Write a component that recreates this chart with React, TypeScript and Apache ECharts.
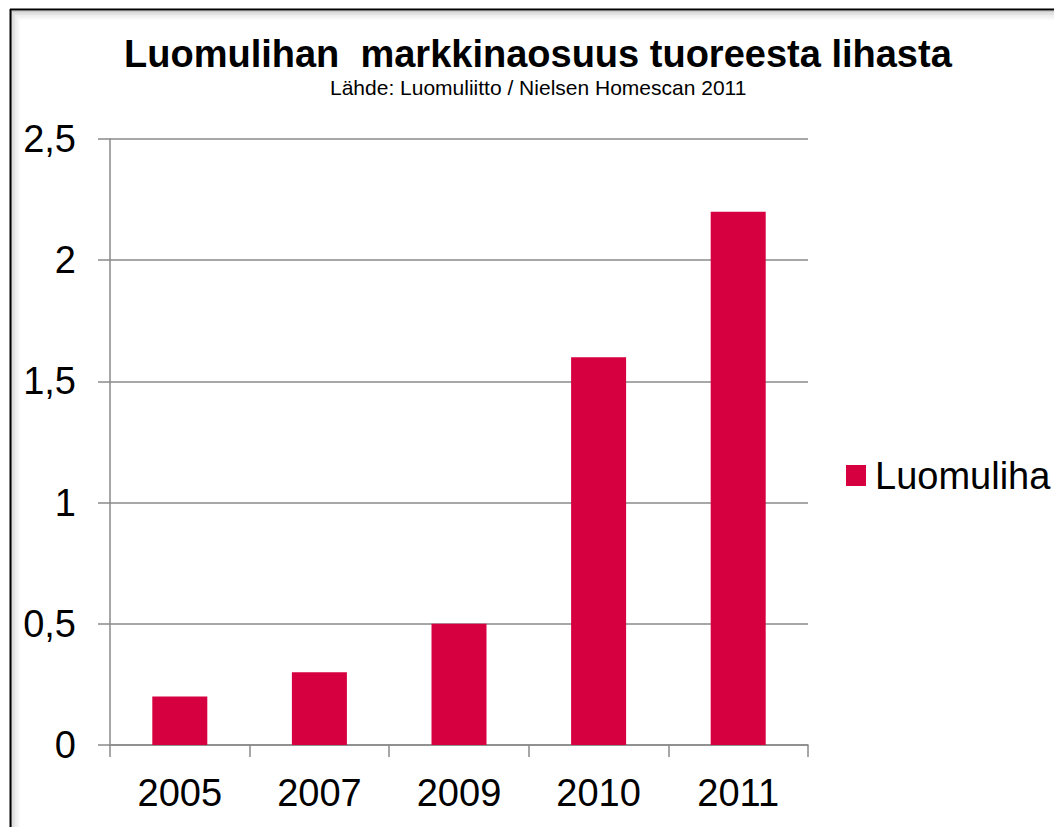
import React, { useEffect, useRef } from "react";
import * as echarts from "echarts";

const titleText = "Luomulihan  markkinaosuus tuoreesta lihasta";
const subtitleText = "Lähde: Luomuliitto / Nielsen Homescan 2011";
const seriesName = "Luomuliha";
const categories = ["2005", "2007", "2009", "2010", "2011"];
const values = [0.2, 0.3, 0.5, 1.6, 2.2];

const FONT = "'Liberation Sans', Arial, sans-serif";
const BAR_COLOR = "#D60040";
const AXIS_GRAY = "#8a8a8a";

export default function App() {
  const ref = useRef<HTMLDivElement>(null);

  useEffect(() => {
    document.body.style.margin = "0";
    if (!ref.current) return;
    const chart = echarts.init(ref.current, undefined, { renderer: "svg" });

    const shadowLines: any[] = [];
    const shades = ["#c8c8c8", "#d6d6d6", "#e2e2e2", "#ebebeb", "#f2f2f2", "#f8f8f8"];
    shades.forEach((c, i) => {
      const off = 11.5 + i * 1.5;
      shadowLines.push({
        type: "line",
        shape: { x1: off - 0.5, y1: off, x2: 1054, y2: off },
        style: { stroke: c, lineWidth: 1.5 },
        silent: true,
        z: -1,
      });
      shadowLines.push({
        type: "line",
        shape: { x1: off, y1: off, x2: off, y2: 827 },
        style: { stroke: c, lineWidth: 1.5 },
        silent: true,
        z: -1,
      });
    });

    chart.setOption({
      animation: false,
      backgroundColor: "#ffffff",
      title: [
        {
          text: titleText,
          left: 124,
          top: 35,
          padding: 0,
          textStyle: {
            fontFamily: FONT,
            fontSize: 38,
            fontWeight: "bold",
            color: "#000",
            lineHeight: 38,
          },
        },
        {
          text: subtitleText,
          left: 330,
          top: 77,
          padding: 0,
          textStyle: {
            fontFamily: FONT,
            fontSize: 21,
            fontWeight: "normal",
            color: "#000",
            lineHeight: 21,
          },
        },
      ],
      legend: {
        data: [seriesName],
        left: 846,
        top: 456.5,
        padding: 0,
        icon: "rect",
        itemWidth: 20,
        itemHeight: 21,
        textStyle: {
          fontFamily: FONT,
          fontSize: 38,
          color: "#000",
          padding: [0, 0, 0, 4],
          lineHeight: 38,
        },
      },
      grid: { left: 110, right: 246, top: 139, bottom: 82 },
      xAxis: {
        type: "category",
        data: categories,
        axisLine: { show: true, lineStyle: { color: AXIS_GRAY, width: 1.5 } },
        axisTick: { show: true, length: 12, lineStyle: { color: AXIS_GRAY, width: 1.5 } },
        axisLabel: {
          fontFamily: FONT,
          fontSize: 38,
          color: "#000",
          margin: 29,
          lineHeight: 38,
        },
      },
      yAxis: {
        type: "value",
        min: 0,
        max: 2.5,
        interval: 0.5,
        axisLine: { show: true, lineStyle: { color: AXIS_GRAY, width: 1.5 } },
        axisTick: { show: true, length: 12, lineStyle: { color: AXIS_GRAY, width: 1.5 } },
        splitLine: { show: true, lineStyle: { color: AXIS_GRAY, width: 1.5 } },
        axisLabel: {
          fontFamily: FONT,
          fontSize: 38,
          color: "#000",
          margin: 34,
          formatter: (v: number) => String(v).replace(".", ","),
        },
      },
      series: [
        {
          name: seriesName,
          type: "bar",
          data: values,
          barWidth: 55,
          itemStyle: { color: BAR_COLOR },
        },
      ],
      graphic: [
        ...shadowLines,
        {
          type: "line",
          shape: { x1: 10, y1: 9.5, x2: 1054, y2: 9.5 },
          style: { stroke: "#000", lineWidth: 2 },
          silent: true,
        },
        {
          type: "line",
          shape: { x1: 10.5, y1: 9, x2: 10.5, y2: 827 },
          style: { stroke: "#000", lineWidth: 2 },
          silent: true,
        },
      ],
    });

    return () => chart.dispose();
  }, []);

  return <div ref={ref} style={{ width: 1054, height: 827 }} />;
}
